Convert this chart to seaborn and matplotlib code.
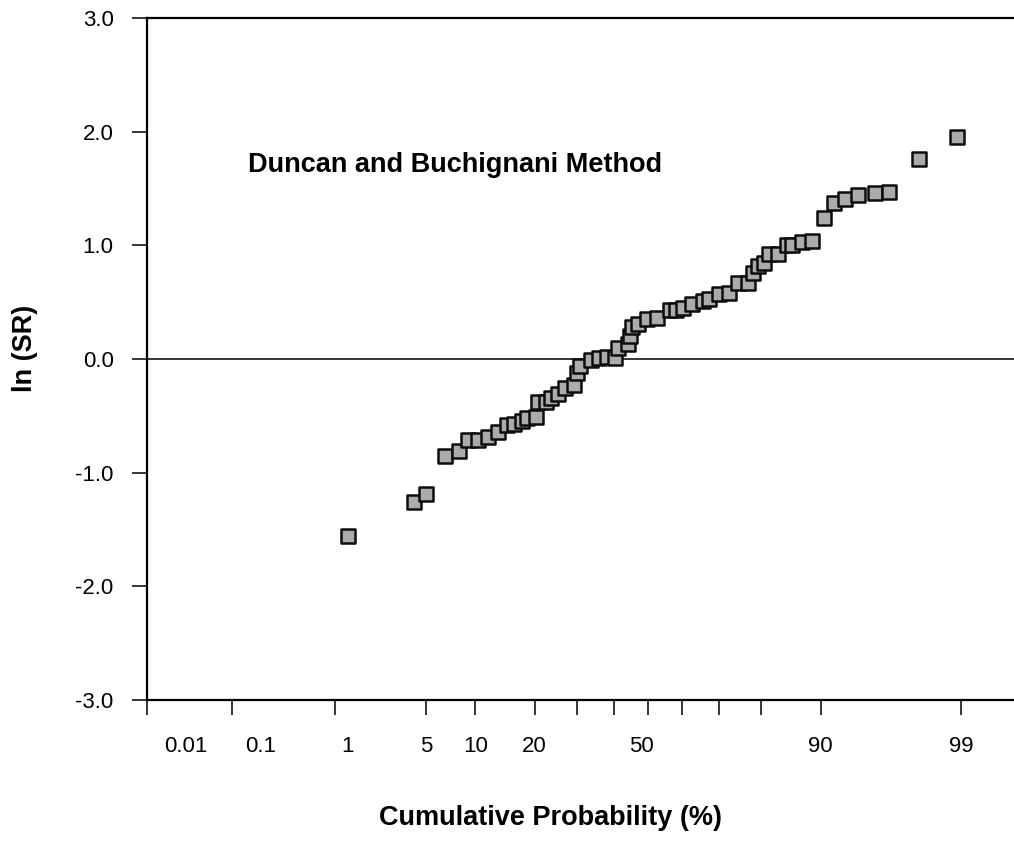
import numpy as np
import pandas as pd
import matplotlib
matplotlib.use("Agg")
import matplotlib.pyplot as plt
import matplotlib.ticker as mticker
import matplotlib.transforms as mtransforms
import seaborn as sns
from statistics import NormalDist

# ---- data ----
cum_prob = [1.3, 4.1, 5.0, 6.6, 8.0, 9.1, 10.3, 11.7, 13.2, 14.7,
            15.9, 17.4, 18.4, 20.3, 20.7, 22.5, 23.6, 25.2, 26.9, 29.2,
            30.0, 30.8, 33.7, 35.9, 37.9, 40.2, 41.1, 44.0, 44.6, 45.2,
            47.0, 49.7, 52.7, 56.6, 58.3, 60.3, 62.9, 65.7, 67.4, 70.0,
            72.6, 74.8, 77.1, 78.2, 79.3, 80.6, 81.6, 83.3, 84.8, 85.8,
            87.3, 88.8, 90.4, 91.6, 92.8, 94.0, 95.4, 96.3, 97.8, 98.9]
ln_sr = [-1.56, -1.26, -1.19, -0.85, -0.81, -0.71, -0.71, -0.69, -0.64, -0.58,
         -0.57, -0.55, -0.52, -0.51, -0.38, -0.38, -0.34, -0.31, -0.26, -0.23,
         -0.12, -0.06, -0.01, 0.01, 0.02, 0.01, 0.10, 0.13, 0.20, 0.28,
         0.31, 0.35, 0.36, 0.43, 0.43, 0.45, 0.48, 0.51, 0.53, 0.57,
         0.58, 0.67, 0.67, 0.76, 0.82, 0.84, 0.92, 0.92, 1.00, 1.00,
         1.03, 1.04, 1.24, 1.37, 1.41, 1.44, 1.46, 1.47, 1.76, 1.95]

x_ticks = [0.01, 0.1, 1, 5, 10, 20, 30, 40, 50, 60, 70, 80, 90, 99]
x_tick_labels = ["0.01", "0.1", "1", "5", "10", "20", "", "", "50", "", "", "", "90", "99"]
y_ticks = [-3.0, -2.0, -1.0, 0.0, 1.0, 2.0, 3.0]
y_tick_labels = ["-3.0", "-2.0", "-1.0", "0.0", "1.0", "2.0", "3.0"]
title_text = "Duncan and Buchignani Method"
x_label = "Cumulative Probability (%)"
y_label = "ln (SR)"

df = pd.DataFrame({"prob": cum_prob, "lnsr": ln_sr})

# ---- normal probability scale ----
_nd = NormalDist()
_inv_cdf = np.vectorize(_nd.inv_cdf, otypes=[float])
_cdf = np.vectorize(_nd.cdf, otypes=[float])


def prob_forward(p):
    p = np.clip(np.asarray(p, dtype=float) / 100.0, 1e-12, 1 - 1e-12)
    return _inv_cdf(p)


def prob_inverse(z):
    return _cdf(np.asarray(z, dtype=float)) * 100.0


sns.set_theme(style="white")
plt.rcParams["font.family"] = ["Liberation Sans", "DejaVu Sans"]
plt.rcParams["text.color"] = "black"
plt.rcParams["axes.labelcolor"] = "black"

fig = plt.figure(figsize=(10.14, 8.41), dpi=100)
ax = fig.add_axes([0.145, 0.1677, 0.855, 0.811])

sns.scatterplot(data=df, x="prob", y="lnsr", ax=ax, marker="s", s=90,
                color="#ababab", edgecolor="#0d0d0d", linewidth=1.8, zorder=3)

ax.set_xscale("function", functions=(prob_forward, prob_inverse))
ax.set_xlim(0.01, 99.67)
ax.set_ylim(-3.0, 3.0)

ax.axhline(0, color="black", lw=1.1, zorder=1)

ax.xaxis.set_major_locator(mticker.FixedLocator(x_ticks))
ax.xaxis.set_minor_locator(mticker.NullLocator())
ax.set_xticklabels(x_tick_labels)
ax.yaxis.set_major_locator(mticker.FixedLocator(y_ticks))
ax.set_yticklabels(y_tick_labels)

ax.tick_params(axis="both", which="major", direction="out", length=11,
               width=1.1, color="black", labelsize=16, labelcolor="black",
               bottom=True, left=True, top=False, right=False)
ax.tick_params(axis="x", pad=15)
ax.tick_params(axis="y", pad=13)

# small horizontal shifts of a few x tick labels, as in the reference
shifts_px = {"0.01": 39, "0.1": 29, "1": 13, "50": -7}
for lab in ax.get_xticklabels():
    dx = shifts_px.get(lab.get_text(), 0)
    if dx:
        lab.set_transform(lab.get_transform() +
                          mtransforms.ScaledTranslation(dx / 100.0, 0, fig.dpi_scale_trans))

for side in ["left", "top", "bottom"]:
    ax.spines[side].set_visible(True)
    ax.spines[side].set_color("black")
    ax.spines[side].set_linewidth(1.6)
ax.spines["right"].set_visible(False)

ax.set_xlabel(x_label, fontsize=19.5, fontweight="bold", va="center", color="black")
ax.xaxis.set_label_coords(0.465, -0.173)
ax.set_ylabel(y_label, fontsize=19.5, fontweight="bold", va="center", color="black")
ax.yaxis.set_label_coords(-0.1407, 0.516)

ax.text(0.1165, 0.784, title_text, transform=ax.transAxes, fontsize=19.5,
        fontweight="bold", ha="left", va="center", color="black")

fig.savefig("out.png", dpi=100)
